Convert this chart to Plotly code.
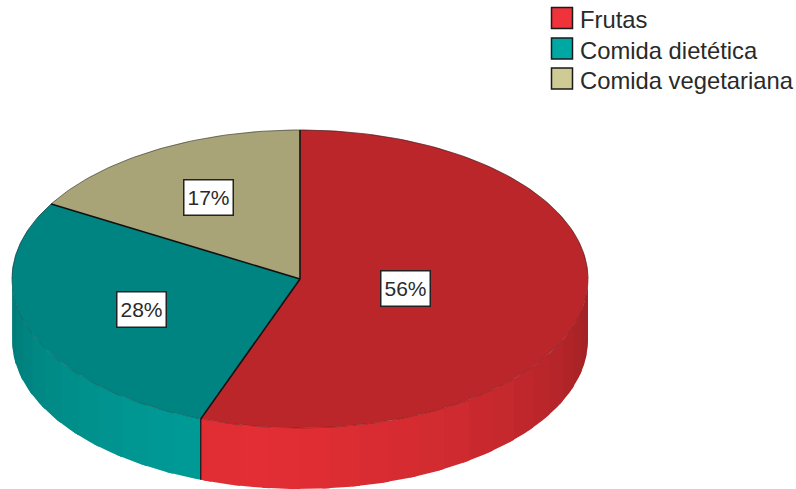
import math
import plotly.graph_objects as go

categories = ["Frutas", "Comida dietética", "Comida vegetariana"]
values = [55.6, 27.8, 16.6]
labels = ["56%", "28%", "17%"]
top_colors = ["#BB262B", "#008482", "#A8A478"]
side_bright = ["#E22E34", "#009C98", "#CFCB94"]
legend_colors = ["#F0323A", "#00A8A4", "#CFCB94"]
label_pos = [(405.5, 288.5), (141.5, 309), (208.5, 197.5)]

W, H = 796, 489
CX, CY, RX, RY, DEPTH = 300, 279, 288, 149, 61


def pt(theta, dy=0):
    a = math.radians(theta)
    return CX + RX * math.sin(a), CY - RY * math.cos(a) + dy


def arc(t0, t1, dy=0):
    n = max(2, int(abs(t1 - t0)) + 1)
    return [pt(t0 + (t1 - t0) * i / n, dy) for i in range(n + 1)]


def shade(hexc, f):
    r, g, b = [int(hexc[i:i + 2], 16) for i in (1, 3, 5)]
    return f"rgb({round(r * f)},{round(g * f)},{round(b * f)})"


def poly(points, color, line="rgba(0,0,0,0)", width=0):
    xs, ys = zip(*points)
    return go.Scatter(x=xs, y=ys, mode="lines", fill="toself", fillcolor=color,
                      line=dict(color=line, width=width), hoverinfo="skip",
                      showlegend=False)


fig = go.Figure()
total = sum(values)
edges = [0]
for v in values:
    edges.append(edges[-1] + 360 * v / total)

# side wall bands, each running under the next one so no seam shows
STEP = 6
for i in range(3):
    t0, t1 = max(edges[i], 90), min(edges[i + 1], 270)
    t = t0
    while t < t1:
        e = min(t + STEP, t1)
        mid = (t + e) / 2
        f = 1 - 0.27 * (min(abs(mid - 190), 90) / 90) ** 1.5
        col = shade(side_bright[i], f)
        end = min(e + 1.5, t1)
        fig.add_trace(poly(arc(t, end) + arc(end, t, DEPTH), col))
        t = e

# top faces
for i in range(3):
    pts = [(CX, CY)] + arc(edges[i], edges[i + 1]) + [(CX, CY)]
    fig.add_trace(poly(pts, top_colors[i], top_colors[i], 0.5))

# slice edges and rim
for e in edges[:-1]:
    x, y = pt(e)
    fig.add_trace(go.Scatter(x=[CX, x], y=[CY, y], mode="lines",
                             line=dict(color="#101010", width=1.6),
                             hoverinfo="skip", showlegend=False))
x, y = pt(edges[1])
fig.add_trace(go.Scatter(x=[x, x], y=[y, y + DEPTH], mode="lines",
                         line=dict(color="#202020", width=1.4),
                         hoverinfo="skip", showlegend=False))
rim = arc(90, 270)
fig.add_trace(go.Scatter(x=[p[0] for p in rim], y=[p[1] for p in rim], mode="lines",
                         line=dict(color="rgba(40,10,10,0.3)", width=0.7),
                         hoverinfo="skip", showlegend=False))
rim = arc(270, 450)
fig.add_trace(go.Scatter(x=[p[0] for p in rim], y=[p[1] for p in rim], mode="lines",
                         line=dict(color="rgba(20,20,20,0.6)", width=0.8),
                         hoverinfo="skip", showlegend=False))

# legend
LEG_Y = [18, 48.5, 78.5]
fig.add_trace(go.Scatter(x=[562] * 3, y=LEG_Y, mode="markers",
                         marker=dict(symbol="square", size=21, color=legend_colors,
                                     line=dict(color="#1a1a1a", width=1.5)),
                         hoverinfo="skip", showlegend=False))
fig.add_trace(go.Scatter(x=[580] * 3, y=[v + 4.5 for v in LEG_Y], mode="text", text=categories,
                         textposition="middle right",
                         textfont=dict(family="Liberation Sans", size=23.8, color="#2a2a2a"),
                         hoverinfo="skip", showlegend=False))

for (x, y), t in zip(label_pos, labels):
    fig.add_annotation(x=x, y=y, text=t, showarrow=False, xref="x", yref="y",
                       width=48, height=34, bgcolor="white", bordercolor="#222222",
                       borderwidth=1.5, borderpad=0,
                       font=dict(family="Liberation Sans", size=21, color="#2a2a2a"))

fig.update_layout(width=W, height=H, margin=dict(l=0, r=0, t=0, b=0),
                  paper_bgcolor="white", plot_bgcolor="white",
                  xaxis=dict(range=[0, W], visible=False, fixedrange=True),
                  yaxis=dict(range=[H, 0], visible=False, fixedrange=True),
                  showlegend=False)
fig.write_html("out.html", config={"displayModeBar": False},
               post_script="document.body.style.margin='0';document.documentElement.style.overflow='hidden';")
